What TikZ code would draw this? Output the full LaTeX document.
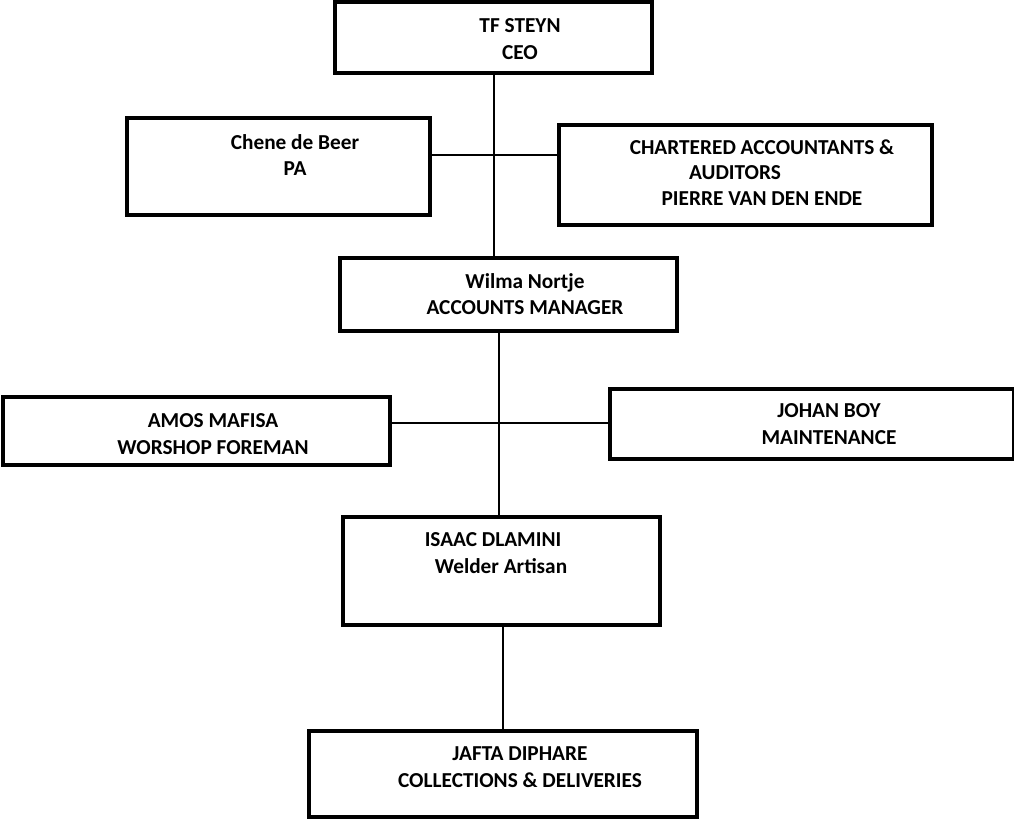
\documentclass[tikz,border=0pt]{standalone}
\usepackage{fontspec}
\setmainfont{Carlito}
\begin{document}
\begin{tikzpicture}[x=1pt,y=-1pt,
  box/.style={draw=black,line width=3.2pt,fill=white,inner sep=0pt},
  txt/.style={font=\fontsize{21.3}{26.5}\selectfont\bfseries,align=center,inner sep=0pt,anchor=center},
  conn/.style={draw=black,line width=1.8pt}]
\useasboundingbox (0,0) rectangle (1014,821);
% connectors first (drawn under boxes)
\coordinate (c1) at (494,73);
\coordinate (c2) at (494,258);
\coordinate (h1l) at (430,155);
\coordinate (h1r) at (559,155);
\coordinate (c3) at (499,331);
\coordinate (c4) at (499,517);
\coordinate (h2l) at (390,423);
\coordinate (h2r) at (610,423);
\coordinate (c5) at (503,625);
\coordinate (c6) at (503,731);
\draw[conn] (c1) -- (c2);
\draw[conn] (h1l) -- (h1r);
\draw[conn] (c3) -- (c4);
\draw[conn] (h2l) -- (h2r);
\draw[conn] (c5) -- (c6);
% boxes
\node[box,minimum width=317pt,minimum height=71pt] (ceo) at (493.5,37.5) {};
\node[box,minimum width=303pt,minimum height=97pt] (pa) at (278.5,166.5) {};
\node[box,minimum width=373pt,minimum height=100pt] (ca) at (745.5,175) {};
\node[box,minimum width=337pt,minimum height=73pt] (wilma) at (508.5,294.5) {};
\node[box,minimum width=387pt,minimum height=68pt] (amos) at (196.5,431) {};
\node[box,minimum width=404pt,minimum height=70pt] (johan) at (812,424) {};
\node[box,minimum width=317pt,minimum height=108pt] (isaac) at (501.5,571) {};
\node[box,minimum width=388pt,minimum height=86pt] (jafta) at (503,774) {};
% texts
\node[txt] (tceo) at (520,39) {TF STEYN\\CEO};
\node[txt] (tpa) at (295,155) {Chene de Beer\\PA};
\node[txt] (tca1) at (762,147) {CHARTERED ACCOUNTANTS \&};
\node[txt] (tca2) at (735,173) {AUDITORS};
\node[txt] (tca3) at (762,199) {PIERRE VAN DEN ENDE};
\node[txt] (twilma) at (525,294) {Wilma Nortje\\ACCOUNTS MANAGER};
\node[txt] (tamos) at (213,434) {AMOS MAFISA\\WORSHOP FOREMAN};
\node[txt] (tjohan) at (829,424) {JOHAN BOY\\MAINTENANCE};
\node[txt] (tisaac1) at (493,540) {ISAAC DLAMINI};
\node[txt] (tisaac2) at (501,566) {Welder Artisan};
\node[txt] (tjafta) at (520,767) {JAFTA DIPHARE\\COLLECTIONS \& DELIVERIES};
\end{tikzpicture}
\end{document}
